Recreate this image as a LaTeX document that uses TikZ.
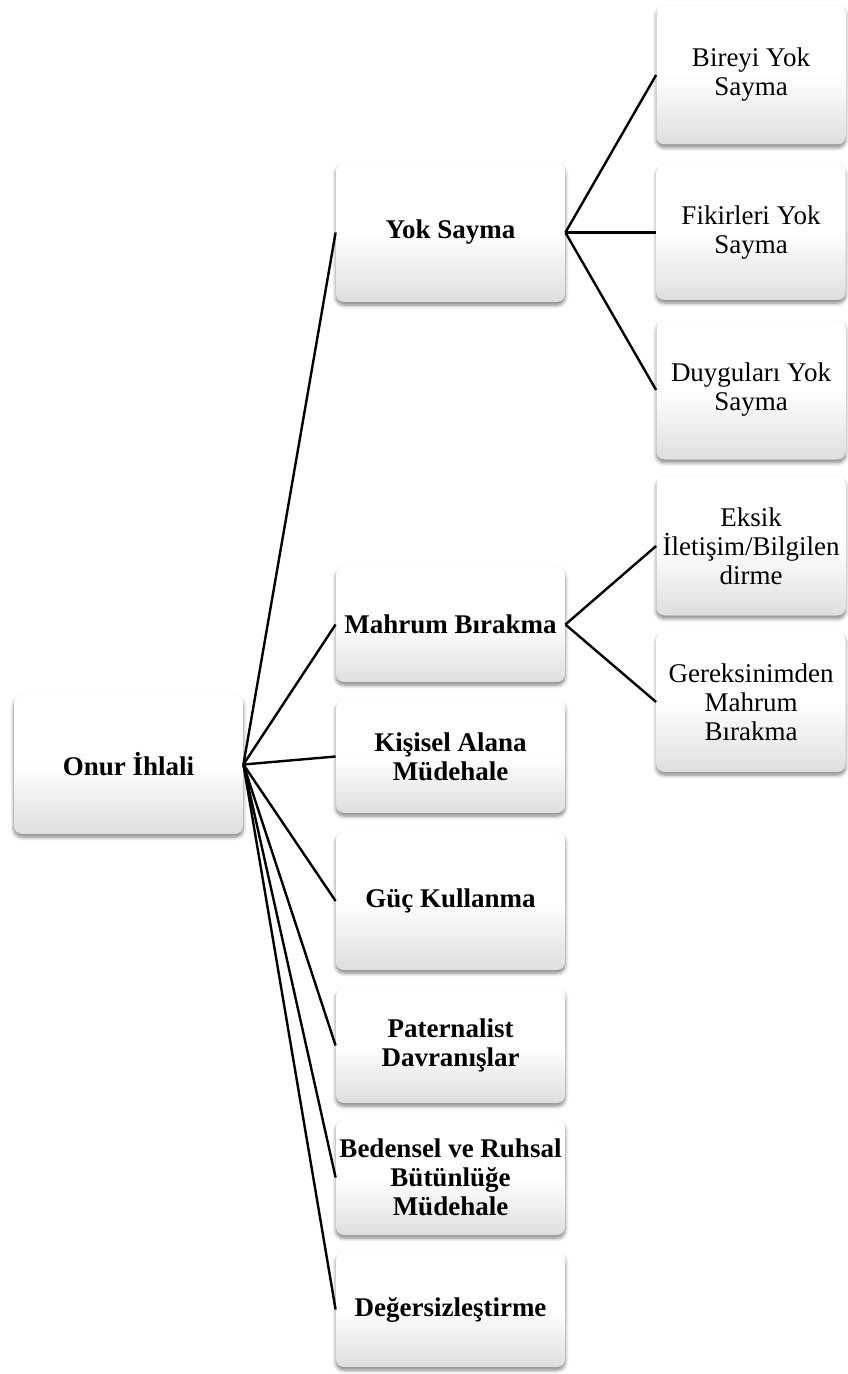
\documentclass[tikz,border=0pt]{standalone}
\usepackage{fontspec}
\setmainfont{Liberation Serif}
\usetikzlibrary{shadows.blur}

\tikzset{
    box/.style={rounded corners=4pt, top color=white, bottom color=black!13, middle color=white,
        blur shadow={shadow xshift=0pt, shadow yshift=-1.5pt, shadow blur steps=6, shadow opacity=50},
        align=center, inner sep=1pt, font=\fontsize{13.5}{14.5}\selectfont},
    rootbox/.style={box, minimum width=114.5pt, minimum height=69.5pt, font=\fontsize{13.5}{14.5}\selectfont\bfseries},
    catbox/.style={box, minimum width=114.5pt, font=\fontsize{13.5}{14.5}\selectfont\bfseries},
    subbox/.style={box, minimum width=94.5pt, minimum height=69.5pt},
    link/.style={draw=black, line width=1.2pt}
}

\begin{document}
\begin{tikzpicture}[x=0.5pt, y=-0.5pt]
    \useasboundingbox (0,0) rectangle (847,1374);

    \node[rootbox] (onur) at (128.5,764.5) {Onur İhlali};

    \node[catbox, minimum height=69.5pt] (yok) at (450.5,232.5) {Yok Sayma};
    \node[catbox, minimum height=57.5pt] (mahrum) at (450.5,624.5) {Mahrum Bırakma};
    \node[catbox, minimum height=56.5pt] (kisisel) at (450.5,756.5) {Kişisel Alana\\Müdehale};
    \node[catbox, minimum height=69pt] (guc) at (450.5,901) {Güç Kullanma};
    \node[catbox, minimum height=57.5pt] (paternalist) at (450.5,1045.5) {Paternalist\\Davranışlar};
    \node[catbox, minimum height=57.5pt] (bedensel) at (450.5,1177.5) {Bedensel ve Ruhsal\\Bütünlüğe\\Müdehale};
    \node[catbox, minimum height=57.5pt] (deger) at (450.5,1309.5) {Değersizleştirme};

    \node[subbox] (bireyi) at (751,75) {Bireyi Yok\\Sayma};
    \node[subbox, minimum height=67.5pt] (fikir) at (751,232.5) {Fikirleri Yok\\Sayma};
    \node[subbox] (duygu) at (751,390) {Duyguları Yok\\Sayma};
    \node[subbox] (eksik) at (751,546) {Eksik\\İletişim/Bilgilen\\dirme};
    \node[subbox, minimum height=70pt] (gerek) at (751,702) {Gereksinimden\\Mahrum\\Bırakma};

    \foreach \n in {yok,mahrum,kisisel,guc,paternalist,bedensel,deger}
        \draw[link] (onur.east) -- (\n.west);
    \foreach \n in {bireyi,fikir,duygu}
        \draw[link] (yok.east) -- (\n.west);
    \foreach \n in {eksik,gerek}
        \draw[link] (mahrum.east) -- (\n.west);
\end{tikzpicture}
\end{document}
